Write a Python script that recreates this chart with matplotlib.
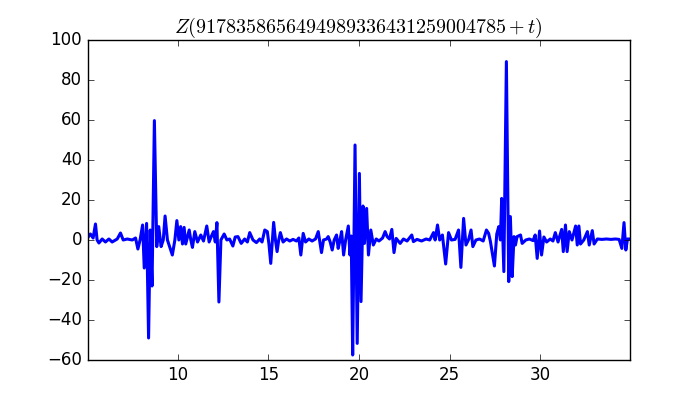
import matplotlib
matplotlib.use('Agg')
import matplotlib.pyplot as plt

plt.style.use('classic')

TITLE = r'$Z(9178358656494989336431259004785+t)$'

# values (t, Z)
t_values = [
    5.02, 5.18, 5.33, 5.46, 5.55, 5.65, 5.83, 6.01, 6.20, 6.38, 6.66, 6.84, 6.99, 7.21, 7.49, 7.67,
    7.80, 7.92, 8.06, 8.15, 8.28, 8.39, 8.48, 8.58, 8.71, 8.84, 8.95, 9.08, 9.20, 9.30, 9.43, 9.70,
    9.84, 9.95, 10.06, 10.16, 10.26, 10.35, 10.44, 10.63, 10.72, 10.81, 10.94, 11.09, 11.27, 11.42,
    11.60, 11.73, 11.86, 11.97, 12.07, 12.16, 12.27, 12.38, 12.56, 12.71, 12.86, 13.04, 13.17, 13.32,
    13.50, 13.69, 13.84, 13.97, 14.15, 14.34, 14.52, 14.65, 14.80, 14.94, 15.03, 15.13, 15.22, 15.29,
    15.39, 15.48, 15.57, 15.66, 15.81, 16.00, 16.18, 16.36, 16.55, 16.68, 16.79, 16.92, 17.05, 17.23,
    17.41, 17.60, 17.75, 17.84, 17.93, 18.04, 18.21, 18.30, 18.41, 18.52, 18.63, 18.76, 18.85, 18.95,
    19.04, 19.15, 19.26, 19.41, 19.50, 19.57, 19.65, 19.78, 19.90, 20.02, 20.11, 20.22, 20.30, 20.42,
    20.52, 20.65, 20.79, 20.95, 21.10, 21.30, 21.44, 21.55, 21.68, 21.81, 21.93, 22.05, 22.27, 22.45,
    22.65, 22.91, 23.00, 23.20, 23.45, 23.70, 23.90, 24.11, 24.20, 24.33, 24.45, 24.60, 24.78, 24.94,
    25.10, 25.30, 25.49, 25.62, 25.77, 25.90, 26.05, 26.18, 26.28, 26.45, 26.65, 26.85, 27.03, 27.15,
    27.25, 27.47, 27.60, 27.71, 27.80, 27.87, 27.99, 28.13, 28.26, 28.35, 28.45, 28.55, 28.63, 28.72,
    28.91, 29.00, 29.20, 29.40, 29.60, 29.72, 29.83, 29.96, 30.07, 30.20, 30.35, 30.55, 30.70, 30.83,
    30.98, 31.18, 31.27, 31.39, 31.48, 31.60, 31.75, 31.95, 32.04, 32.13, 32.22, 32.40, 32.60, 32.70,
    32.87, 32.97, 33.15, 33.40, 33.65, 33.90, 34.15, 34.35, 34.50, 34.62, 34.72, 34.81, 34.95,
]
z_values = [
    1, 3, 1, 8, 0, -1.5, 0.5, -1, 0.5, -1, 0.5, 3.5, 0, 0.5, 0, 1,
    -4.5, 0, 7.5, -14, 8.3, -49, 5, -23, 59.7, -3.3, 6.7, -3.3, 0, 12, 0, -7.5,
    0, 9.7, 0, 6.7, -2, 6.3, -2, 5, 0, -3.7, 4.2, -1, 2.5, -0.5,
    7, -1, 2, 4.2, -1, 8.7, -31, 0, 3, 0, 0.5, -3, 1.5, 1.7,
    -1.7, 0.5, -1, 3.7, 0, -1.3, 0.5, -1, 5, 4.2, -2, -11.7, 0, 8.8,
    0, -5.8, 0, 3.7, -1, 0.5, -0.5, 0.3, -0.5, 1, -7.5, 3.3, -1, 0.5,
    -0.5, 0.5, 4.2, -1, -6.3, 0, 0.5, 1.7, -1, -5, 0, 2.5, -4.2, 0,
    4.2, -7.5, 0, 7, -7.5, 2, -57.5, 47.5, -51.7, 33.3, -30.8, 17, -1.7, 15.8,
    -7.5, 5, -2.5, 0.5, -0.5, 1, 4.2, 1.7, 0.5, 5.3, -6.3, 0.8, -1.7, 0.5,
    -0.5, 2.5, -0.8, 0.3, -0.5, 0.5, 0, 3.7, 0, 7.5, 0, 2.5, -12, 3.7,
    0, 0.3, 5, -13.7, 10.8, -2.5, 0.3, 5, -3.3, 0, 0.5, -0.5, 5, 3.3,
    -0.8, -13, 3, 6.7, 0, 20.8, -15.8, 89.2, -20.8, 11.7, -18.3, 1.7, -2.5, 1.7,
    2.5, -1.7, 0, 0.5, -0.3, 2.5, -9.2, 4.5, -7.5, 1.5, -1, 0.5, -0.5, 3.7,
    -1, 5.3, -5.8, 7.5, -5.8, 4.2, 0, 7, -2.5, 7, -2, 0, 4.2, -2.5,
    4.7, -2, 0.5, 0.3, 0.5, 0.3, 0.5, 0.3, -4.2, 8.7, -5, 0.5, 0.5,
]


def plot_z():
    f = plt.figure(figsize=(7, 4), dpi=100)
    ax = f.gca()
    ax.plot(t_values, z_values, 'b-', linewidth=2.2)
    ax.set_xlim(t_values[0], t_values[-1])
    ax.set_ylim(-60, 100)
    ax.set_title(TITLE)
    f.subplots_adjust(left=0.125, right=0.9, bottom=0.1, top=0.9)
    f.savefig('out.png', dpi=100)


if __name__ == '__main__':
    plot_z()
